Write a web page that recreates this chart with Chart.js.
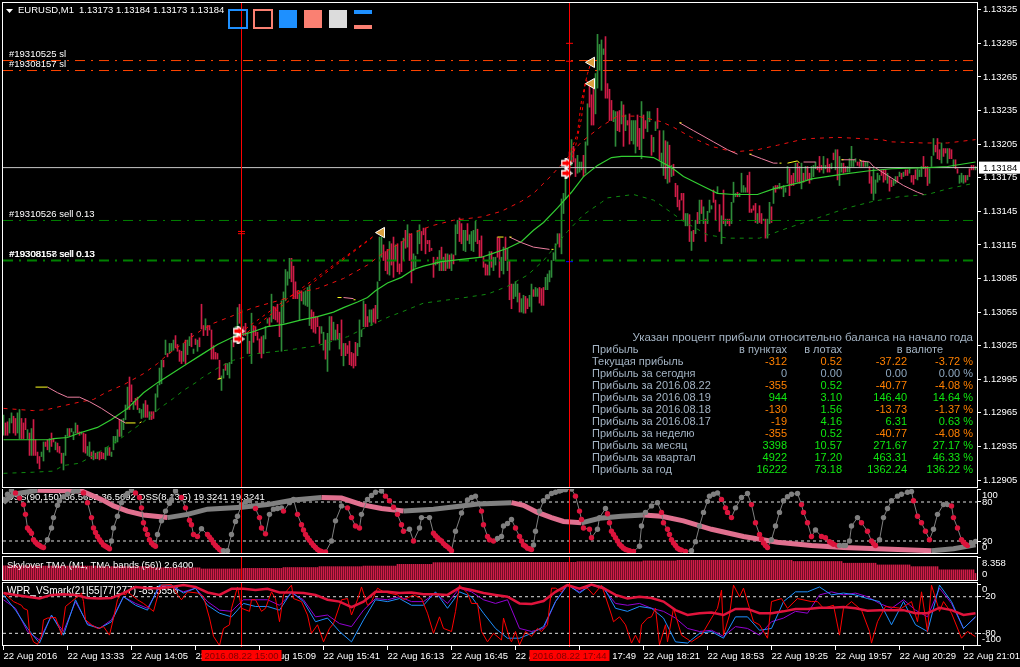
<!DOCTYPE html>
<html>
<head>
<meta charset="utf-8">
<title>EURUSD,M1</title>
<script src="https://cdn.jsdelivr.net/npm/chart.js@4"></script>
<style>
  html, body { margin: 0; background: #000; overflow: hidden; }
  canvas { position: absolute; left: 0; }
</style>
</head>
<body>
<canvas id="mainPane" width="1020" height="488" style="top:0"></canvas>
<canvas id="dssPane" width="1020" height="65" style="top:489px"></canvas>
<canvas id="tmaPane" width="1020" height="25" style="top:556px"></canvas>
<canvas id="wprPane" width="1020" height="85" style="top:582px"></canvas>
<script>
// prices are kept in points above 1.12000, one entry per M1 bar
const barHigh = [
  963,956,957,960,965,962,960,965,968,960, 956,960,950,947,951,959,941,930,926,930,
  939,939,941,942,947,942,939,938,935,929, 929,945,951,951,951,948,956,954,948,948,
  947,946,935,939,930,931,929,930,930,930, 929,934,934,934,930,944,944,950,959,959,
  960,972,988,997,990,975,978,979,969,968, 973,976,972,966,966,966,982,990,1005,1012,
  1012,1030,1018,1027,1027,1030,1034,1026,1021,1020, 1027,1030,1030,1033,1036,1022,1031,1030,1032,1062,
  1043,1049,1043,1043,1039,1025,1019,1018,1012,998, 1004,1009,1009,1010,1030,1033,1042,1059,1062,1057,
  1042,1045,1037,1029,1054,1043,1042,1037,1031,1033, 1034,1042,1049,1050,1071,1060,1059,1062,1055,1065,
  1073,1093,1091,1103,1103,1096,1082,1074,1074,1074, 1073,1074,1077,1079,1057,1055,1051,1051,1042,1042,
  1037,1030,1036,1051,1051,1046,1039,1044,1036,1048, 1027,1027,1025,1029,1019,1018,1028,1027,1048,1039,
  1065,1062,1051,1057,1057,1058,1061,1082,1122,1122, 1115,1109,1111,1118,1116,1122,1115,1116,1098,1118,
  1121,1128,1133,1125,1125,1107,1105,1128,1133,1127, 1130,1130,1119,1119,1112,1104,1100,1104,1110,1113,
  1104,1107,1107,1106,1107,1106,1133,1137,1139,1134, 1128,1128,1134,1124,1127,1128,1136,1129,1119,1123,
  1104,1098,1097,1109,1109,1104,1104,1122,1121,1104, 1113,1122,1112,1101,1080,1080,1082,1080,1072,1067,
  1070,1069,1067,1070,1080,1075,1077,1076,1077,1076, 1077,1086,1089,1092,1101,1108,1116,1125,1125,1156,
  1161,1179,1188,1198,1209,1203,1192,1195,1189,1189, 1195,1207,1241,1258,1249,1258,1268,1303,1294,1298,
  1290,1301,1259,1254,1244,1235,1234,1234,1235,1243, 1240,1231,1226,1232,1226,1226,1226,1231,1219,1243,
  1231,1226,1234,1234,1213,1211,1225,1237,1217,1197, 1217,1208,1207,1204,1186,1187,1170,1168,1155,1161,
  1161,1143,1143,1142,1127,1128,1137,1144,1155,1155, 1149,1138,1145,1155,1150,1164,1155,1167,1151,1141,
  1164,1138,1138,1138,1153,1171,1161,1162,1161,1179, 1168,1166,1177,1180,1147,1150,1152,1143,1150,1143,
  1138,1138,1138,1153,1149,1167,1168,1168,1170,1167, 1168,1166,1185,1183,1177,1179,1188,1188,1185,1188,
  1179,1185,1185,1179,1185,1186,1189,1185,1194,1186, 1194,1186,1192,1187,1188,1197,1200,1200,1194,1188,
  1188,1185,1185,1192,1203,1191,1192,1189,1189,1189, 1190,1189,1189,1185,1176,1183,1173,1179,1177,1182,
  1182,1182,1179,1176,1173,1173,1176,1176,1180,1179, 1180,1182,1182,1183,1177,1177,1182,1183,1182,1185,
  1194,1185,1185,1183,1194,1210,1204,1210,1200,1206, 1201,1201,1201,1201,1200,1191,1191,1183,1177,1179,
  1177,1177,1177,1183,1186,1186,1185
];
const barLow = [
  945,945,945,947,956,947,945,947,942,942, 942,950,942,927,927,927,927,920,915,926,
  922,935,932,930,935,939,932,930,929,920, 914,927,944,944,948,941,947,947,945,946,
  930,929,927,926,924,923,924,924,923,924, 924,923,927,927,926,932,938,939,944,944,
  950,959,968,968,975,968,972,968,965,960, 961,961,961,959,959,960,966,979,990,991,
  1006,1017,1015,1018,1020,1021,1023,1020,1011,1009, 1011,1009,1017,1025,1024,1018,1026,1020,1024,1040,
  1034,1039,1034,1039,1013,1013,1013,1013,995,985, 996,1003,999,996,1009,1024,1034,1040,1045,1036,
  1034,1034,1018,1018,1009,1028,1034,1030,1018,1014, 1018,1031,1045,1042,1046,1049,1048,1046,1033,1020,
  1045,1065,1079,1085,1082,1067,1067,1067,1048,1065, 1062,1061,1060,1043,1040,1037,1036,1042,1027,1036,
  1021,1013,1002,1021,1030,1030,1030,1031,1022,1016, 1007,1016,1018,1008,1007,1005,1007,1016,1024,1033,
  1042,1042,1042,1046,1043,1046,1045,1049,1083,1104, 1101,1092,1089,1088,1097,1086,1101,1091,1089,1091,
  1101,1112,1113,1101,1081,1092,1095,1107,1116,1110, 1124,1107,1116,1109,1110,1086,1097,1098,1092,1092,
  1092,1092,1094,1094,1092,1098,1106,1125,1118,1116, 1110,1109,1119,1116,1110,1109,1118,1116,1104,1104,
  1095,1088,1088,1088,1095,1092,1097,1104,1086,1092, 1089,1101,1092,1066,1058,1067,1069,1064,1055,1055,
  1054,1054,1058,1060,1055,1069,1069,1069,1063,1061, 1061,1075,1075,1082,1086,1101,1101,1116,1113,1107,
  1143,1156,1176,1176,1186,1189,1176,1179,1180,1182, 1176,1179,1204,1238,1222,1222,1232,1255,1271,1253,
  1285,1246,1246,1226,1226,1225,1203,1217,1216,1223, 1203,1217,1222,1205,1208,1205,1197,1203,1200,1192,
  1210,1219,1216,1225,1195,1198,1217,1219,1191,1185, 1177,1174,1170,1171,1176,1177,1158,1149,1146,1155,
  1137,1132,1132,1118,1110,1118,1125,1134,1134,1143, 1134,1118,1134,1144,1147,1153,1137,1161,1127,1116,
  1134,1132,1134,1132,1134,1153,1158,1158,1158,1162, 1162,1162,1162,1144,1144,1146,1135,1134,1135,1134,
  1137,1121,1121,1134,1135,1152,1162,1165,1165,1165, 1158,1162,1170,1159,1168,1168,1171,1171,1170,1165,
  1171,1173,1173,1170,1173,1176,1183,1182,1180,1182, 1179,1183,1180,1180,1183,1191,1182,1173,1168,1180,
  1179,1180,1180,1180,1185,1185,1189,1186,1185,1185, 1185,1185,1185,1170,1161,1155,1161,1171,1173,1177,
  1171,1173,1170,1163,1167,1168,1170,1171,1176,1174, 1176,1177,1177,1179,1171,1169,1174,1173,1176,1176,
  1183,1176,1168,1170,1185,1195,1198,1192,1191,1188, 1194,1197,1188,1192,1192,1185,1183,1179,1170,1171,
  1170,1171,1173,1176,1182,1182,1182
];
const barUp = [
  1,0,0,1,1,0,0,1,1,0, 0,0,1,0,1,0,0,0,0,1, 1,0,0,1,0,0,1,0,0,0, 1,1,1,0,1,1,1,0,0,1,
  0,0,1,1,0,1,0,1,0,0, 0,1,1,0,1,1,1,1,0,1, 1,1,1,0,0,1,0,0,1,1, 1,0,0,1,0,0,1,1,1,1,
  0,1,0,1,1,1,0,0,0,0, 1,0,1,1,0,1,0,1,0,0, 0,1,0,0,0,0,0,0,0,1, 1,0,1,1,1,0,1,1,0,1,
  0,0,1,0,1,0,0,0,0,0, 1,1,1,0,1,0,0,0,0,1, 1,1,1,1,0,0,0,0,1,0, 1,1,1,1,0,0,0,0,0,1,
  1,0,1,1,0,1,1,0,1,0, 1,0,0,0,0,0,0,1,1,1, 1,0,0,1,1,0,0,1,1,1, 0,0,0,1,0,0,1,0,0,0,
  1,0,1,0,0,1,1,1,1,0, 0,0,0,0,0,0,1,0,1,0, 1,0,1,0,1,0,1,1,0,0, 1,1,0,1,1,1,1,0,0,0,
  0,0,0,1,0,1,1,0,0,1, 1,0,1,0,0,1,1,1,0,1, 1,0,0,1,1,0,1,1,0,0, 0,1,1,1,1,1,1,1,0,1,
  1,1,0,0,1,0,0,1,1,1, 0,1,1,0,0,0,1,1,1,1, 1,0,0,0,0,1,1,0,0,1, 0,1,0,0,1,1,1,0,0,1,
  0,0,1,1,0,1,1,0,0,1, 1,0,1,0,1,0,0,0,0,0, 0,1,1,0,1,0,1,0,1,0, 1,0,1,1,1,0,0,1,0,1,
  0,1,0,0,1,1,1,0,1,1, 1,1,0,0,0,0,0,1,0,0, 1,0,1,1,0,1,0,0,1,0, 1,1,1,0,0,0,1,0,0,1,
  0,1,0,0,1,1,1,0,0,0, 1,1,0,0,1,0,1,0,1,1, 0,0,1,1,1,1,1,0,0,1, 0,1,1,0,0,1,1,1,1,0,
  0,0,1,0,0,1,1,0,1,0, 1,0,0,1,0,0,0,1,1,1, 0,0,0,1,1,1,0,0,0,1, 0,0,1,0,0,1,0,0,1,1,
  1,0,1,0,0,0,1
];

// moving average and its channel, as [bar, points] rows
const tmaBars = [0,23,25,32,38,47,54,62,70,77,85,92,99,107,115,124,132,140,149,157,165,170,177,182,186,192,199,205,210,219,229,239,244,252,259,265,270,277,284,290,297,304,309,319,325,334,340,349,357,365,377,385,399,404,419,432,444,462,472,486];
const tmaValues = [941,941,942,943,947,952,959,969,983,992,1001,1009,1017,1026,1033,1037,1042,1044,1048,1051,1055,1059,1064,1068,1074,1081,1086,1093,1096,1100,1102,1104,1107,1112,1118,1128,1135,1148,1162,1176,1186,1193,1194,1194,1193,1184,1176,1168,1161,1160,1160,1165,1171,1174,1178,1181,1183,1184,1185,1189];
const upperBars = [0,15,22,29,39,45,52,60,70,77,82,99,105,115,125,139,149,157,170,182,190,199,204,214,225,239,249,259,265,274,282,289,299,307,317,329,335,344,354,365,377,387,399,404,417,439,444,460,472,486];
const upperValues = [969,967,968,971,975,977,984,990,1000,1009,1017,1039,1045,1052,1059,1066,1073,1076,1085,1097,1108,1117,1125,1132,1137,1140,1145,1154,1161,1177,1193,1207,1221,1230,1230,1225,1220,1211,1203,1198,1200,1204,1209,1210,1211,1209,1207,1206,1206,1209];
const lowerBars = [0,15,25,30,38,45,55,60,70,78,85,90,97,99,108,115,127,142,157,172,182,193,199,210,227,242,252,262,270,282,290,299,302,315,325,333,340,352,362,378,392,407,422,435,448,462,472,485];
const lowerValues = [911,912,913,918,920,927,938,944,957,969,978,985,993,996,1006,1012,1018,1021,1025,1033,1042,1051,1055,1063,1067,1071,1078,1088,1101,1127,1142,1153,1157,1160,1155,1145,1136,1124,1121,1121,1130,1139,1148,1154,1158,1160,1165,1170];

// signal line pieces; a null value leaves a gap
const signalBars = [22,27,32,38,43,49,55,61,62,170,175,176,253,259,265,273,274,338,345,355,362,367,368,373,379,385,387,388,400,406,407,419,426,427,428,433,435,442,450,457,460];
const signalValues = [988,983,979,979,975,969,962,956,null,1068,1067,null,1122,1117,1113,1111,null,1224,1217,1207,1200,1196,null,1196,1192,1188,1188,null,1189,1189,null,1191,1191,null,1190,1189,1185,1177,1168,1162,1160];
const flatBars = [16,22,23,61,66,67,68,69,70,107,109,110,167,169,170,175,176,177,247,250,251,253,254,273,274,275,335,338,339,367,373,374,387,388,389,390,392,397,398,416,419,420,426,428,429,460,463];
const flatValues = [988,988,null,956,956,null,956,957,null,995,996,null,1068,1068,null,1066,1066,null,1122,1122,null,1122,1122,null,1111,1111,null,1224,1224,null,1196,1196,null,1188,1188,null,1188,1190,1188,null,1191,1191,null,1191,1190,null,1160,1160];

// order levels and trades
const stopLevels = [1279.6, 1270.7];
const takeLevels = [1136.8, 1101];
const bidLevel = 1184;
const bidLabel = '1.13184';
const tradeOneBars = [121,186];
const tradeOneValues = [1040,1124];
const tradeTwoBars = [122,184];
const tradeTwoValues = [1037,1121];
const tradeThreeBars = [282,284,287,289,292,294];
const tradeThreeValues = [1189,1200,1215,1244,1268,1279];
const tradeFourBars = [283,286,289,291,294];
const tradeFourValues = [1183,1203,1228,1262,1259];
const openBars = [117.5,117.5,281.5,281.5];
const openValues = [1038,1031,1188,1179];
const closeBars = [189,294,294];
const closeValues = [1126,1278,1259];
const stopMarkBars = [119,119,283,283];
const stopMarkValues = [1127,1125,1295,1279];
const takeMarkBars = [283];
const takeMarkValues = [1100];
const cursorBars = [119, 283];

const priceTicks = [905,935,965,995,1025,1055,1085,1115,1145,1175,1205,1235,1265,1295,1325];
const timeTicks = [0,32,64,96,128,160,192,224,256,288,320,352,384,416,448,480];
const timeLabels = ['22 Aug 2016','22 Aug 13:33','22 Aug 14:05','22 Aug 14:37','22 Aug 15:09','22 Aug 15:41','22 Aug 16:13','22 Aug 16:45','22 Aug 17:17','22 Aug 17:49','22 Aug 18:21','22 Aug 18:53','22 Aug 19:25','22 Aug 19:57','22 Aug 20:29','22 Aug 21:01'];

// profit table
const profitTitle = 'Указан процент прибыли относительно баланса на начало года';
const profitHeader = ['Прибыль', 'в пунктах', 'в лотах', 'в валюте'];
const profitRows = ['Текущая прибыль','Прибыль за сегодня','Прибыль за 2016.08.22','Прибыль за 2016.08.19','Прибыль за 2016.08.18','Прибыль за 2016.08.17','Прибыль за неделю','Прибыль за месяц','Прибыль за квартал','Прибыль за год'];
const profitPips = ['-312','0','-355','944','-130','-19','-355','3398','4922','16222'];
const profitLots = ['0.52','0.00','0.52','3.10','1.56','4.16','0.52','10.57','17.20','73.18'];
const profitMoney = ['-37.22','0.00','-40.77','146.40','-13.73','6.31','-40.77','271.67','463.31','1362.24'];
const profitPercent = ['-3.72 %','0.00 %','-4.08 %','14.64 %','-1.37 %','0.63 %','-4.08 %','27.17 %','46.33 %','136.22 %'];

// DSS sub window
const dssSlowBars = [0,5,17,39,49,55,62,70,82,92,102,119,132,145,159,169,179,189,200,215,229,237,254,260,267,274,280,289,298,309,320,329,340,354,370,387,404,420,437,454,464,475,486];
const dssSlowValues = [79,92,98,97,84,74,66,60,56,61,69,72,76,83,87,86,76,70,66,69,74,77,79,75,64,56,50,48,55,58,60,58,51,38,27,18,13,10,8,6,5,8,14];
const dssFastBars = [0,2,4,6,8,10,11,12,13,14,15,16,17,18,19,20,22,24,25,27,28,30,32,35,37,40,42,44,45,46,47,48,49,50,51,52,53,54,55,57,59,61,62,64,66,68,69,70,71,72,73,74,75,76,77,79,81,83,84,86,89,91,93,94,95,97,99,102,103,104,105,106,107,108,109,110,112,114,116,117,119,121,123,126,128,129,131,133,135,137,139,140,143,145,147,149,150,151,152,153,154,155,156,157,158,159,161,164,166,169,172,174,176,178,179,182,184,186,189,191,193,195,197,199,200,203,205,208,209,213,215,216,217,218,219,220,221,222,223,224,226,229,232,234,236,239,240,242,243,245,247,249,250,252,254,256,258,259,260,261,262,263,264,265,266,268,270,272,274,276,278,279,281,284,286,288,289,290,293,294,297,298,301,302,303,304,305,306,307,308,309,310,311,312,313,315,318,319,321,324,327,329,330,332,333,334,335,336,337,338,339,341,344,346,348,350,352,353,355,357,359,361,362,364,366,369,372,374,376,378,379,380,381,382,384,386,388,390,392,394,397,399,400,402,404,406,409,411,413,414,415,417,418,420,421,423,424,427,429,432,434,435,436,438,440,442,444,447,449,452,454,455,457,459,461,463,465,467,470,472,474,475,477,479,480,481,482,484,486];
const dssFastValues = [84,92,98,94,86,76,61,40,36,32,22,18,15,13,11,10,22,40,56,75,82,88,92,96,97,94,79,56,40,33,27,22,18,14,12,10,8,20,40,58,79,90,93,98,94,87,71,48,38,30,22,17,14,12,30,51,66,78,84,97,87,71,52,45,30,27,39,30,26,22,17,13,10,7,5,5,5,30,50,58,76,80,82,70,56,40,31,61,69,70,71,66,79,84,61,45,37,30,25,21,17,13,10,7,5,4,3,20,51,74,71,56,43,40,61,84,90,95,97,89,82,72,61,45,35,38,20,40,56,56,32,28,25,22,20,16,13,11,8,5,35,63,83,87,89,66,45,27,22,20,24,27,43,47,53,40,27,20,14,12,9,8,7,14,35,66,82,88,93,95,97,98,99,100,89,66,53,40,38,25,38,56,70,62,48,35,30,25,20,15,12,9,7,6,5,4,12,43,64,74,79,64,48,38,30,22,17,13,9,7,6,4,5,19,43,64,81,89,92,94,84,71,64,56,71,87,93,76,48,30,23,17,13,10,22,43,64,82,88,92,93,76,64,48,27,37,27,25,19,17,15,13,13,13,13,20,43,56,48,35,20,16,13,22,56,70,82,89,92,95,96,82,58,48,35,22,38,61,76,76,74,56,40,22,18,15,13,17,19.3241];

// TMA histogram as runs of equal height, one bar per minute
const histLevels = [5.3,5.2,5.0,4.6,4.2,4.4,4.7,5.0,5.2,5.8,6.4,6.5,6.7,7.0,7.2,6.8,6.2,5.6,5.0,3.9,2.64];
const histRuns = [16,32,27,24,21,20,18,22,17,18,39,33,33,17,58,25,17,17,14,18,1];

// WPR sub window, sampled every six bars
const wprBars = [0,6,12,18,24,30,36,42,48,54,60,66,72,78,84,90,96,102,108,114,120,126,132,138,144,150,156,162,168,174,180,186,192,198,204,210,216,222,228,234,240,246,252,258,264,270,276,282,288,294,300,306,312,318,324,330,336,342,348,354,360,366,372,378,384,390,396,402,408,414,420,426,432,438,444,450,456,462,468,474,480,486];
const wprSlow = [-14,-17,-20,-23,-17,-16,-17,-22,-23,-22,-14,-4,-6,-6,-4,-1,-4,-13,-17,-7,-7,-9,-7,-13,-13,-14,-17,-25,-28,-37,-28,-12,-12,-14,-13,-16,-16,-17,-5,-9,-14,-17,-20,-31,-32,-27,-12,-1,-7,0,-6,-17,-23,-20,-22,-28,-42,-50,-47,-46,-50,-40,-40,-47,-47,-44,-40,-40,-38,-38,-37,-39,-43,-42,-42,-42,-47,-47,-38,-42,-50,-47];
const wprPurple = [-25,-39,-77,-91,-51,-77,-28,-64,-72,-58,-20,-31,-39,-4,-4,-12,-6,-28,-42,-44,-25,-25,-25,-34,-14,-25,-53,-50,-64,-69,-42,-23,-25,-20,-28,-28,-14,-31,-6,-12,-25,-31,-25,-72,-77,-72,-28,-1,-12,-1,-7,-31,-34,-31,-39,-44,-55,-72,-77,-75,-85,-69,-72,-83,-61,-55,-44,-47,-17,-12,-17,-14,-20,-31,-39,-25,-42,-53,-6,-31,-72,-53];
const wprBlue = [-17,-42,-72,-96,-50,-83,-25,-66,-72,-61,-20,-34,-42,-1,-1,-14,-6,-34,-47,-53,-31,-36,-36,-42,-12,-28,-61,-55,-77,-94,-58,-25,-28,-23,-34,-34,-12,-39,-12,-20,-47,-72,-88,-88,-80,-69,-28,0,-14,0,-4,-39,-44,-36,-39,-55,-94,-96,-80,-77,-88,-53,-53,-75,-72,-28,-12,-12,-4,-17,-14,-17,-23,-28,-66,-28,-66,-77,-1,-28,-72,-53];
// the fast red line is spikier, it gets its own bar list
const wprRedBars = [0,4,5,7,9,10,12,13,15,17,19,20,22,26,28,29,31,34,37,39,40,41,44,47,50,53,55,57,59,61,62,67,70,75,77,79,84,87,89,92,97,100,103,105,108,110,113,114,117,119,123,124,126,129,131,134,136,138,140,144,145,149,152,154,157,160,163,165,169,172,174,177,179,182,184,187,190,197,200,205,209,212,215,218,220,224,226,228,232,234,237,239,242,245,249,250,253,254,256,258,261,264,267,269,272,274,276,279,281,287,292,295,299,301,304,305,308,311,314,316,318,319,322,324,326,328,331,332,335,339,344,349,354,357,359,360,363,365,368,370,373,375,378,382,384,389,392,397,404,407,410,415,418,420,424,429,433,434,437,441,449,454,457,459,462,464,468,470,474,479,482,486];
const wprRed = [-14,-25,-28,-31,-34,-39,-42,-77,-94,-98,-85,-58,-55,-54,-72,-83,-36,-28,-20,-14,-28,-58,-66,-72,-69,-83,-55,-25,-14,-17,-12,-25,-31,-44,-20,-1,0,-17,-25,-12,-14,-20,-55,-85,-100,-72,-66,-39,-4,-39,-44,-25,-25,-44,-39,-12,-23,-61,-17,-1,-23,-28,-50,-80,-66,-94,-72,-64,-25,-23,-50,-25,-4,-34,-28,-6,-12,-17,-25,-17,-23,-47,-80,-53,-72,-77,-44,-1,-14,-31,-31,-77,-94,-80,-91,-55,-88,-94,-77,-99,-77,-85,-72,-77,-66,-6,-6,-12,-1,-6,-6,-17,-1,-20,-50,-61,-53,-66,-96,-83,-96,-66,-55,-53,-39,-99,-66,-94,-39,-83,-94,-83,-55,-39,-9,-83,-50,-1,-20,-6,-39,-61,-66,-88,-28,-23,-39,-23,-28,-28,-39,-34,-83,-39,-28,-42,-77,-96,-61,-36,-39,-28,-61,-12,-77,-1,-44,-28,-47,-88,-77,-85.5556];

const uiFont = '"Liberation Sans", sans-serif';
const axisFont = '9.5px ' + uiFont;
const RED_BAR = '#d01c48', GREEN_BAR = '#2e8b3a';
const PANE_RIGHT = 43;

// sell arrow: white outline, red body, pointing right
const sellArrow = document.createElement('canvas');
sellArrow.width = 12;
sellArrow.height = 11;
(function () {
  const g = sellArrow.getContext('2d');
  const outline = [[1,3],[5,3],[5,0],[11,5.5],[5,11],[5,8],[1,8]];
  g.beginPath();
  outline.forEach((p, i) => (i ? g.lineTo(p[0], p[1]) : g.moveTo(p[0], p[1])));
  g.closePath();
  g.fillStyle = '#f00';
  g.fill();
  g.lineWidth = 1.5;
  g.strokeStyle = '#fff';
  g.stroke();
})();

function rows(xs, ys) {
  return xs.map((x, i) => ({ x: x, y: ys[i] }));
}

function lineSet(xs, ys, color, width, dash) {
  return { type: 'line', data: rows(xs, ys), borderColor: color, borderWidth: width || 1,
    borderDash: dash || [], pointRadius: 0, tension: 0, spanGaps: false };
}

function markSet(xs, ys, style, opts) {
  return Object.assign({ type: 'line', data: rows(xs, ys), showLine: false, pointStyle: style }, opts);
}

function levelSet(value, color, width, dash) {
  return lineSet([-0.25, 486.75], [value, value], color, width, dash);
}

// keeps a scale from reserving room of its own, every pane lines up at the same edges
function fixedWidth(scale) {
  scale.width = PANE_RIGHT;
  scale.paddingTop = scale.paddingBottom = scale.paddingLeft = scale.paddingRight = 0;
}

function xAxis(shown) {
  return {
    type: 'linear', min: -0.25, max: 486.75, offset: false,
    grid: { display: shown, drawOnChartArea: false, offset: false, color: '#fff', tickLength: 4 },
    border: { display: false },
    afterBuildTicks: s => { s.ticks = timeTicks.map(v => ({ value: v })); },
    afterFit: s => {
      s.height = shown ? 21 : 0;
      s.paddingTop = s.paddingBottom = s.paddingLeft = s.paddingRight = 0;
    },
    ticks: {
      display: shown, autoSkip: false, maxRotation: 0, align: 'start', padding: 1, color: '#fff',
      font: { family: uiFont, size: 9.5 },
      callback: v => timeLabels[timeTicks.indexOf(v)]
    }
  };
}

function yAxis(min, max, ticks, extra) {
  return Object.assign({
    position: 'right', min: min, max: max,
    grid: { drawOnChartArea: false, color: '#fff', tickLength: 4 },
    border: { display: false },
    afterBuildTicks: s => { s.ticks = ticks.map(v => ({ value: v })); },
    afterFit: fixedWidth,
    ticks: { display: false, callback: v => String(v) }
  }, extra);
}

// white frame round a pane and the red cursor lines that cross all of them
const paneFrame = {
  id: 'paneFrame',
  afterDatasetsDraw(chart) {
    const { ctx, chartArea: a, scales } = chart;
    ctx.save();
    ctx.strokeStyle = '#f00';
    ctx.lineWidth = 1;
    cursorBars.forEach(b => {
      const x = Math.floor(scales.x.getPixelForValue(b)) + 0.5;
      ctx.beginPath(); ctx.moveTo(x, a.top - 1); ctx.lineTo(x, a.bottom + 1); ctx.stroke();
    });
    ctx.strokeStyle = '#fff';
    ctx.strokeRect(2.5, a.top - 0.5, a.right - 2, a.bottom - a.top);
    ctx.restore();
  }
};

// tick labels of the narrow panes stay inside the pane instead of centring on the tick
const clampedLabels = {
  id: 'clampedLabels',
  afterDraw(chart) {
    const { ctx, chartArea: a, scales } = chart;
    const s = scales.y;
    ctx.save();
    ctx.font = axisFont;
    ctx.fillStyle = '#fff';
    ctx.textBaseline = 'middle';
    s.ticks.forEach(t => {
      const y = Math.min(Math.max(s.getPixelForValue(t.value), a.top + 6.5), a.bottom - 7);
      ctx.fillText(t.label, 982, y);
    });
    ctx.restore();
  }
};

function text(ctx, str, x, y, color, align) {
  ctx.fillStyle = color;
  ctx.textAlign = align || 'left';
  ctx.fillText(str, x, y);
}

function cellColor(v) {
  if (parseFloat(v) < 0) return '#ff8000';
  if (parseFloat(v) === 0) return '#8fa8c0';
  return '#10e810';
}

const mainOverlay = {
  id: 'mainOverlay',
  afterDraw(chart) {
    const { ctx, scales } = chart;
    ctx.save();
    ctx.font = axisFont;
    ctx.textBaseline = 'middle';

    // symbol caption
    ctx.fillStyle = '#fff';
    ctx.beginPath(); ctx.moveTo(6, 9); ctx.lineTo(13, 9); ctx.lineTo(9.5, 13); ctx.fill();
    text(ctx, 'EURUSD,M1', 18, 10.5, '#fff');
    text(ctx, '1.13173 1.13184 1.13173 1.13184', 79, 10.5, '#fff');

    // panel buttons
    ctx.lineWidth = 2;
    ctx.strokeStyle = '#1e90ff'; ctx.strokeRect(229, 10, 18, 18);
    ctx.strokeStyle = '#fa8072'; ctx.strokeRect(254, 10, 18, 18);
    ctx.fillStyle = '#1e90ff'; ctx.fillRect(279, 10, 18, 18);
    ctx.fillStyle = '#fa8072'; ctx.fillRect(304, 10, 18, 18);
    ctx.fillStyle = '#dcdcdc'; ctx.fillRect(329, 10, 18, 18);
    ctx.fillStyle = '#1e90ff'; ctx.fillRect(354, 10, 18, 4);
    ctx.fillStyle = '#fa8072'; ctx.fillRect(354, 25, 18, 4);

    // order captions sit just above their level lines
    const py = v => scales.y.getPixelForValue(v) - 6;
    text(ctx, '#19310525 sl', 9, py(stopLevels[0]), '#fff');
    text(ctx, '#19308157 sl', 9, py(stopLevels[1]), '#fff');
    text(ctx, '#19310526 sell 0.13', 9, py(takeLevels[0]), '#fff');
    text(ctx, '#19308157 sell 0.13', 9, py(takeLevels[1]), '#fff');
    text(ctx, '#19308158 sell 0.13', 9.5, py(takeLevels[1]), '#fff');

    // profit table
    const labelColor = '#a4b4c4';
    ctx.font = '11.5px ' + uiFont;
    text(ctx, profitTitle, 973, 337.5, labelColor, 'right');
    ctx.font = '11px ' + uiFont;
    text(ctx, profitHeader[0], 592, 349.5, labelColor);
    text(ctx, profitHeader[1], 787, 349.5, labelColor, 'right');
    text(ctx, profitHeader[2], 842, 349.5, labelColor, 'right');
    text(ctx, profitHeader[3], 943, 349.5, labelColor, 'right');
    profitRows.forEach((name, i) => {
      const y = 361.5 + i * 12;
      text(ctx, name, 592, y, labelColor);
      text(ctx, profitPips[i], 787, y, cellColor(profitPips[i]), 'right');
      text(ctx, profitLots[i], 842, y, i === 0 ? '#ff8000' : cellColor(profitLots[i]), 'right');
      text(ctx, profitMoney[i], 907, y, cellColor(profitMoney[i]), 'right');
      text(ctx, profitPercent[i], 973, y, cellColor(profitPercent[i]), 'right');
    });

    // current bid flag on the price axis
    ctx.font = axisFont;
    const bidY = scales.y.getPixelForValue(bidLevel);
    ctx.fillStyle = '#fff';
    ctx.fillRect(979, bidY - 6, 41, 12);
    text(ctx, bidLabel, 983, bidY + 0.5, '#000');
    ctx.restore();
  }
};

const mainChart = new Chart(document.getElementById('mainPane'), {
  type: 'bar',
  data: {
    datasets: [
      markSet(openBars, openValues, sellArrow, { pointRadius: 6 }),
      markSet(closeBars, closeValues, 'triangle', { pointRadius: 6, rotation: -90, pointBackgroundColor: '#daa040', pointBorderColor: '#fff', pointBorderWidth: 1 }),
      markSet(stopMarkBars, stopMarkValues, 'line', { pointRadius: 3.5, pointBorderColor: '#f00', pointBorderWidth: 1 }),
      markSet(takeMarkBars, takeMarkValues, 'line', { pointRadius: 3.5, pointBorderColor: '#00f', pointBorderWidth: 1 }),
      lineSet(tradeOneBars, tradeOneValues, '#f00', 1, [3, 4]),
      lineSet(tradeTwoBars, tradeTwoValues, '#f00', 1, [3, 4]),
      lineSet(tradeThreeBars, tradeThreeValues, '#f00', 1, [3, 3]),
      lineSet(tradeFourBars, tradeFourValues, '#f00', 1, [3, 3]),
      lineSet(flatBars, flatValues, '#ffff20', 1),
      lineSet(signalBars, signalValues, '#ec7fa0', 1),
      lineSet(tmaBars, tmaValues, '#32cd32', 1.2),
      lineSet(upperBars, upperValues, '#f01010', 1, [4, 5]),
      lineSet(lowerBars, lowerValues, '#0f8a0f', 1, [4, 5]),
      levelSet(bidLevel, '#c8c8c8', 1),
      levelSet(stopLevels[0], '#ff4500', 1, [10, 6, 2, 6]),
      levelSet(stopLevels[1], '#ff4500', 1, [10, 6, 2, 6]),
      levelSet(takeLevels[0], '#008000', 1, [10, 6, 2, 6]),
      levelSet(takeLevels[1], '#008000', 2, [10, 6, 2, 6]),
      {
        type: 'bar',
        data: barHigh.map((h, i) => ({ x: i, y: [barLow[i], h] })),
        backgroundColor: barUp.map(u => (u ? GREEN_BAR : RED_BAR)),
        barThickness: 1, grouped: false, borderWidth: 0
      }
    ]
  },
  options: {
    responsive: false, animation: false, devicePixelRatio: 1,
    layout: { autoPadding: false, padding: { top: 3, left: 3, right: 0, bottom: 0 } },
    plugins: { legend: { display: false }, tooltip: { enabled: false } },
    scales: {
      x: xAxis(false),
      y: yAxis(897.9, 1331, priceTicks, {
        ticks: {
          display: true, autoSkip: false, crossAlign: 'near', padding: 2, color: '#fff',
          font: { family: uiFont, size: 9.5 },
          callback: v => (1.12 + v / 100000).toFixed(5)
        }
      })
    }
  },
  plugins: [paneFrame, mainOverlay]
});

// caption is painted before the lines, they run across it
const dssCaption = {
  id: 'dssCaption',
  beforeDatasetsDraw(chart) {
    const { ctx } = chart;
    ctx.save();
    ctx.font = axisFont;
    ctx.textBaseline = 'middle';
    text(ctx, 'DSS(90,150) 36.5692 36.5692 DSS(8,13,5) 19.3241 19.3241', 7, 8, '#fff');
    ctx.restore();
  }
};

const dssChart = new Chart(document.getElementById('dssPane'), {
  type: 'line',
  data: {
    datasets: [
      {
        data: rows(dssFastBars, dssFastValues), borderColor: '#808080', borderWidth: 1, tension: 0,
        pointRadius: 2.7, pointBorderWidth: 0,
        pointBackgroundColor: c => (c.dataIndex > 0 && dssFastValues[c.dataIndex] < dssFastValues[c.dataIndex - 1] ? '#dc143c' : '#808080')
      },
      {
        data: rows(dssSlowBars, dssSlowValues), borderWidth: 5, pointRadius: 0, tension: 0,
        segment: { borderColor: s => (s.p1.parsed.y < s.p0.parsed.y ? '#e0708f' : '#808080') }
      },
      levelSet(80, '#e0e0e0', 1, [3, 3]),
      levelSet(20, '#e0e0e0', 1, [3, 3])
    ]
  },
  options: {
    responsive: false, animation: false, devicePixelRatio: 1,
    layout: { autoPadding: false, padding: { top: 0, left: 3, right: 0, bottom: 0 } },
    plugins: { legend: { display: false }, tooltip: { enabled: false } },
    scales: { x: xAxis(false), y: yAxis(0, 100, [100, 80, 20, 0]) }
  },
  plugins: [paneFrame, clampedLabels, dssCaption]
});

const tmaCaption = {
  id: 'tmaCaption',
  afterDatasetsDraw(chart) {
    const { ctx } = chart;
    ctx.save();
    ctx.font = axisFont;
    ctx.textBaseline = 'middle';
    text(ctx, 'Skylover TMA (M1, TMA bands (56)) 2.6400', 7, 9, '#fff');
    ctx.restore();
  }
};

const histValues = histLevels.flatMap((v, i) => new Array(histRuns[i]).fill(v));

const tmaChart = new Chart(document.getElementById('tmaPane'), {
  type: 'bar',
  data: {
    datasets: [{
      data: histValues.map((v, i) => ({ x: i, y: v })),
      backgroundColor: RED_BAR, barThickness: 1, grouped: false, borderWidth: 0
    }]
  },
  options: {
    responsive: false, animation: false, devicePixelRatio: 1,
    layout: { autoPadding: false, padding: { top: 1, left: 3, right: 0, bottom: 0 } },
    plugins: { legend: { display: false }, tooltip: { enabled: false } },
    scales: { x: xAxis(false), y: yAxis(0, 8.358, [8.358, 0]) }
  },
  plugins: [paneFrame, clampedLabels, tmaCaption]
});

const wprCaption = {
  id: 'wprCaption',
  beforeDatasetsDraw(chart) {
    const { ctx } = chart;
    ctx.save();
    ctx.font = '10px ' + uiFont;
    ctx.textBaseline = 'middle';
    text(ctx, 'WPR_VSmark(21|55|77|277) -85.5556', 7, 9, '#fff');
    ctx.restore();
  }
};

// two red labels cover the time axis at the cursor lines
const cursorTimes = {
  id: 'cursorTimes',
  afterDraw(chart) {
    const { ctx, scales } = chart;
    ctx.save();
    ctx.font = axisFont;
    ctx.textBaseline = 'middle';
    ['2016.08.22 15:00', '2016.08.22 17:44'].forEach((label, i) => {
      const x = scales.x.getPixelForValue(cursorBars[i]);
      ctx.fillStyle = '#f00';
      ctx.fillRect(x - 40, 68, 80, 11);
      text(ctx, label, x, 74, '#800000', 'center');
    });
    ctx.restore();
  }
};

const wprChart = new Chart(document.getElementById('wprPane'), {
  type: 'line',
  data: {
    datasets: [
      lineSet(wprBars, wprSlow, '#e0143c', 2.5),
      lineSet(wprRedBars, wprRed, '#f00', 1),
      lineSet(wprBars, wprBlue, '#1e90ff', 1),
      lineSet(wprBars, wprPurple, '#9400d3', 1),
      levelSet(-20, '#e0e0e0', 1, [3, 3]),
      levelSet(-80, '#e0e0e0', 1, [3, 3])
    ]
  },
  options: {
    responsive: false, animation: false, devicePixelRatio: 1,
    layout: { autoPadding: false, padding: { top: 1, left: 3, right: 0, bottom: 0 } },
    plugins: { legend: { display: false }, tooltip: { enabled: false } },
    scales: { x: xAxis(true), y: yAxis(-100.8, 2.5, [0, -20, -80, -100]) }
  },
  plugins: [paneFrame, clampedLabels, wprCaption, cursorTimes]
});
</script>
</body>
</html>
